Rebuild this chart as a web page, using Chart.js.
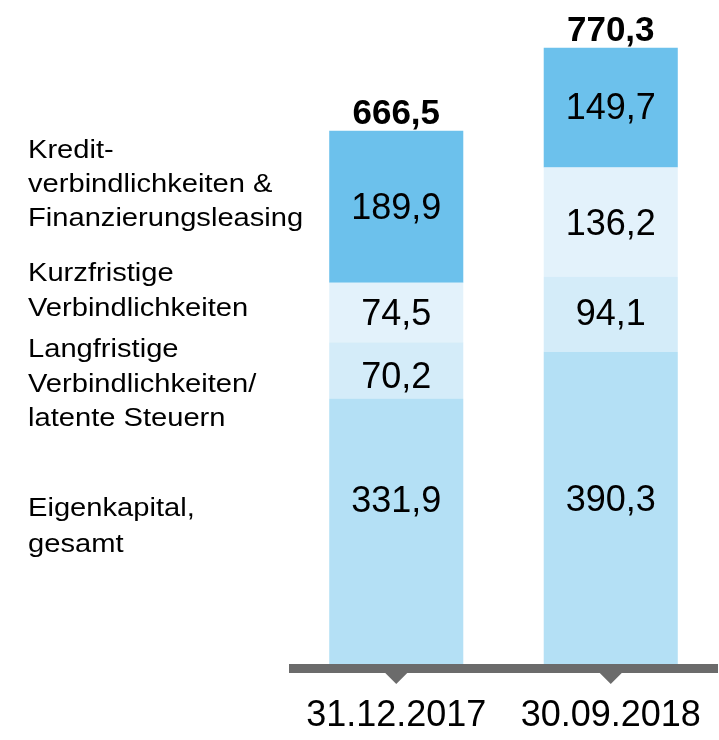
<!DOCTYPE html>
<html>
<head>
<meta charset="utf-8">
<script src="https://cdn.jsdelivr.net/npm/chart.js@4/dist/chart.umd.min.js"></script>
<style>
  html, body { margin: 0; padding: 0; background: #ffffff; }
  #wrap { width: 719px; height: 740px; position: relative; }
</style>
</head>
<body>
<div id="wrap"><canvas id="c" width="719" height="740"></canvas></div>
<script>
// ---- data ----
const categories = ['31.12.2017', '30.09.2018'];
const eigenkapital = [331.9, 390.3];
const langfristige = [70.2, 94.1];
const kurzfristige = [74.5, 136.2];
const kredit = [189.9, 149.7];
const totals = [666.5, 770.3];
const seriesNames = [
  ['Eigenkapital,', 'gesamt'],
  ['Langfristige', 'Verbindlichkeiten/', 'latente Steuern'],
  ['Kurzfristige', 'Verbindlichkeiten'],
  ['Kredit-', 'verbindlichkeiten &', 'Finanzierungsleasing']
];

function fmt(v) { return v.toFixed(1).replace('.', ','); }

// ---- plugin: axis line with markers, value labels, side legend ----
const decor = {
  id: 'decor',
  afterDatasetsDraw(chart) {
    const ctx = chart.ctx;
    const area = chart.chartArea;
    const xs = chart.scales.x;
    const ys = chart.scales.y;
    ctx.save();
    // axis bar
    ctx.fillStyle = '#6b6b6b';
    ctx.fillRect(area.left, area.bottom, area.right - area.left, 9);
    // triangle markers
    categories.forEach((c, i) => {
      const x = xs.getPixelForValue(i);
      ctx.beginPath();
      ctx.moveTo(x - 12, area.bottom + 8);
      ctx.lineTo(x + 12, area.bottom + 8);
      ctx.lineTo(x, area.bottom + 20);
      ctx.closePath();
      ctx.fill();
    });
    // segment labels
    ctx.fillStyle = '#000000';
    ctx.textAlign = 'center';
    ctx.textBaseline = 'middle';
    ctx.font = '36px "Liberation Sans", Arial, sans-serif';
    const shifts = [[-30, -8], [7, 0], [2, 2], [1, 0]];
    chart.data.datasets.forEach((ds, di) => {
      const meta = chart.getDatasetMeta(di);
      meta.data.forEach((bar, i) => {
        const y = (bar.y + bar.base) / 2 + shifts[di][i];
        ctx.fillText(fmt(ds.data[i]), bar.x, y + 1);
      });
    });
    // totals
    ctx.font = 'bold 35px "Liberation Sans", Arial, sans-serif';
    ctx.textBaseline = 'alphabetic';
    totals.forEach((t, i) => {
      const x = xs.getPixelForValue(i);
      ctx.fillText(fmt(t), x, ys.getPixelForValue(t) - 7);
    });
    // side legend
    ctx.font = '26px "Liberation Sans", Arial, sans-serif';
    ctx.textAlign = 'left';
    const baselines = [[516, 552], [356.5, 391.5, 425.5], [280.5, 315.5], [158, 192, 225.5]];
    seriesNames.forEach((lines, si) => {
      lines.forEach((ln, li) => {
        ctx.save();
        ctx.translate(28, baselines[si][li]);
        ctx.scale(1.12, 1);
        ctx.fillText(ln, 0, 0);
        ctx.restore();
      });
    });
    ctx.restore();
  }
};

const colors = ['#b4e0f5', '#d4ecf9', '#e3f2fb', '#6cc1ec'];

new Chart(document.getElementById('c'), {
  type: 'bar',
  data: {
    labels: categories,
    datasets: [
      { label: 'Eigenkapital, gesamt', data: eigenkapital, backgroundColor: colors[0] },
      { label: 'Langfristige Verbindlichkeiten/latente Steuern', data: langfristige, backgroundColor: colors[1] },
      { label: 'Kurzfristige Verbindlichkeiten', data: kurzfristige, backgroundColor: colors[2] },
      { label: 'Kreditverbindlichkeiten & Finanzierungsleasing', data: kredit, backgroundColor: colors[3] }
    ]
  },
  options: {
    responsive: false,
    animation: false,
    layout: { padding: { left: 289, right: 1, top: 0, bottom: 0 } },
    datasets: { bar: { barPercentage: 0.625, categoryPercentage: 1, borderWidth: 0 } },
    plugins: { legend: { display: false }, tooltip: { enabled: false } },
    scales: {
      x: {
        stacked: true,
        grid: { display: false, drawTicks: false },
        border: { display: false },
        ticks: {
          color: '#000000',
          padding: 30,
          font: { family: '"Liberation Sans", Arial, sans-serif', size: 36 }
        },
        afterFit(scale) {
          scale.height = 76;
          scale.paddingLeft = 0;
          scale.paddingRight = 0;
        }
      },
      y: {
        stacked: true,
        display: false,
        min: 0,
        max: 830
      }
    }
  },
  plugins: [decor]
});
</script>
</body>
</html>
